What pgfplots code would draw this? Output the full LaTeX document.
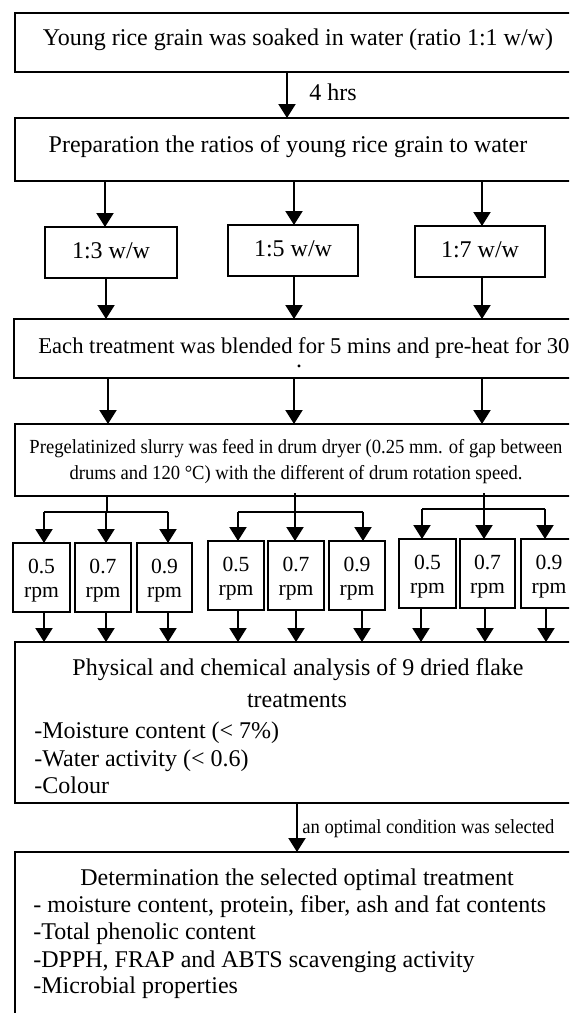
\documentclass[border=0pt]{standalone}
\usepackage{fontspec}
\setmainfont{Liberation Serif}
\newfontfamily\cond[FakeStretch=0.93]{Liberation Serif}
\usepackage{pgfplots}
\pgfplotsset{compat=1.18}
\usetikzlibrary{arrows.meta}
\begin{document}
\begin{tikzpicture}[
 bx/.style={line width=1pt},
 ar/.style={line width=1pt,-{Triangle[width=8.5pt,length=7pt]}},
 t/.style={font=\fontsize{12}{14}\selectfont},
 ts/.style={font=\fontsize{10.8}{12}\selectfont},
 tc/.style={font=\fontsize{10}{12}\cond},
 lw/.style={anchor=base west,inner sep=0pt},
]
\begin{axis}[scale only axis, width=284.5pt, height=506.5pt,
  xmin=0, xmax=569, ymin=0, ymax=1013, y dir=reverse,
  axis lines=none, clip=true]
% box 1
\draw[bx] (600,13) -- (15,13) -- (15,72) -- (600,72);
\node[t,anchor=base] at (298,45) {Young rice grain was soaked in water (ratio 1:1 w/w)};
\draw[ar] (287,72) -- (287,118);
\node[t,lw] at (309,100) {4 hrs};
% box 2
\draw[bx] (600,118) -- (15,118) -- (15,181) -- (600,181);
\node[t,anchor=base] at (288,152) {Preparation the ratios of young rice grain to water};
\draw[ar] (105,181) -- (105,227);
\draw[ar] (294,181) -- (294,225);
\draw[ar] (482,181) -- (482,226);
% ratio boxes
\draw[bx] (45,227) rectangle (177,278);
\node[t,anchor=base] at (111,258) {1:3 w/w};
\draw[bx] (228,225) rectangle (358,276);
\node[t,anchor=base] at (293,256) {1:5 w/w};
\draw[bx] (415,226) rectangle (545,277);
\node[t,anchor=base] at (480,257) {1:7 w/w};
\draw[ar] (106,278) -- (106,319);
\draw[ar] (294,276) -- (294,319);
\draw[ar] (482,277) -- (482,319);
% box 3
\draw[bx] (600,319) -- (14,319) -- (14,378) -- (600,378);
\node[lw,font=\fontsize{11.3}{13}\selectfont] at (38,353) {Each treatment was blended for 5 mins and pre-heat for 30 mins};
\node[t,anchor=base,inner sep=0pt] at (299,367) {.};
\draw[ar] (108,378) -- (108,424);
\draw[ar] (294,378) -- (294,424);
\draw[ar] (482,378) -- (482,424);
% box 4
\draw[bx] (600,424) -- (15,424) -- (15,496) -- (600,496);
\node[tc,anchor=base] at (296,453) {Pregelatinized slurry was feed in drum dryer (0.25 mm. of gap between};
\node[tc,anchor=base] at (296,479) {drums and 120 °C) with the different of drum rotation speed.};
% splits
\draw[bx] (107,496) -- (107,512);
\draw[bx] (44,512) -- (168,512);
\draw[ar] (44,511.5) -- (44,543);
\draw[ar] (106,512) -- (106,543);
\draw[ar] (168,511.5) -- (168,543);
\draw[bx] (295,493) -- (295,512);
\draw[bx] (238,512) -- (363,512);
\draw[ar] (238,511.5) -- (238,541);
\draw[ar] (295,512) -- (295,541);
\draw[ar] (363,511.5) -- (363,541);
\draw[bx] (484,493) -- (484,509);
\draw[bx] (422,509) -- (545,509);
\draw[ar] (422,508.5) -- (422,539);
\draw[ar] (484,509) -- (484,539);
\draw[ar] (545,508.5) -- (545,539);
% rpm boxes group 1
\draw[bx] (13,543) rectangle (70,612);
\draw[bx] (75,543) rectangle (131,612);
\draw[bx] (137,543) rectangle (192,612);
\node[ts,anchor=base] at (41.5,573) {0.5};
\node[ts,anchor=base] at (41.5,597) {rpm};
\node[ts,anchor=base] at (103,573) {0.7};
\node[ts,anchor=base] at (103,597) {rpm};
\node[ts,anchor=base] at (164.5,573) {0.9};
\node[ts,anchor=base] at (164.5,597) {rpm};
% group 2
\draw[bx] (208,541) rectangle (264,610);
\draw[bx] (268,541) rectangle (324,610);
\draw[bx] (329,541) rectangle (385,610);
\node[ts,anchor=base] at (236,571) {0.5};
\node[ts,anchor=base] at (236,595) {rpm};
\node[ts,anchor=base] at (296,571) {0.7};
\node[ts,anchor=base] at (296,595) {rpm};
\node[ts,anchor=base] at (357,571) {0.9};
\node[ts,anchor=base] at (357,595) {rpm};
% group 3
\draw[bx] (399,539) rectangle (456,608);
\draw[bx] (460,539) rectangle (515,608);
\draw[bx] (521,539) rectangle (578,608);
\node[ts,anchor=base] at (427.5,569) {0.5};
\node[ts,anchor=base] at (427.5,593) {rpm};
\node[ts,anchor=base] at (487.5,569) {0.7};
\node[ts,anchor=base] at (487.5,593) {rpm};
\node[ts,anchor=base] at (549,569) {0.9};
\node[ts,anchor=base] at (549,593) {rpm};
% arrows below
\draw[ar] (44,612) -- (44,642);
\draw[ar] (106,612) -- (106,642);
\draw[ar] (168,612) -- (168,642);
\draw[ar] (238,610) -- (238,642);
\draw[ar] (296,610) -- (296,642);
\draw[ar] (362,610) -- (362,642);
\draw[ar] (421,608) -- (421,642);
\draw[ar] (485,608) -- (485,642);
\draw[ar] (546,608) -- (546,642);
% box 5
\draw[bx] (600,642) -- (15,642) -- (15,803) -- (600,803);
\node[t,anchor=base] at (298,675) {Physical and chemical analysis of 9 dried flake};
\node[t,anchor=base] at (297,707) {treatments};
\node[t,lw] at (34,738) {-Moisture content (< 7\%)};
\node[t,lw] at (34,766) {-Water activity (< 0.6)};
\node[t,lw] at (34,793) {-Colour};
\draw[ar] (297,803) -- (297,852);
\node[tc,lw] at (302,833) {an optimal condition was selected};
% box 6
\draw[bx] (600,852) -- (15,852) -- (15,1030);
\node[t,anchor=base] at (297,885) {Determination the selected optimal treatment};
\node[t,lw] at (33,912) {- moisture content, protein, fiber, ash and fat contents};
\node[t,lw] at (33,939) {-Total phenolic content};
\node[t,lw] at (33,967) {-DPPH, FRAP and ABTS scavenging activity};
\node[t,lw] at (33,993) {-Microbial properties};
\end{axis}
\pgfresetboundingbox
\path (0,0) rectangle (284.5pt,506.5pt);
\end{tikzpicture}
\end{document}
